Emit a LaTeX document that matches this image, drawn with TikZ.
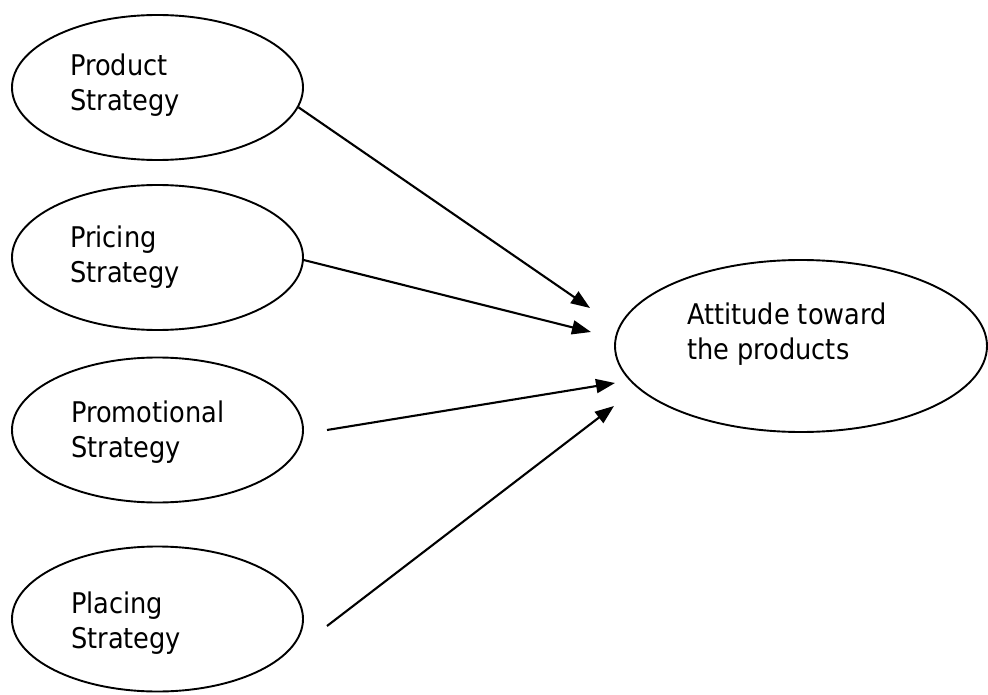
\documentclass[tikz,border=0pt]{standalone}
\usepackage{fontspec}
\setmainfont{DejaVu Sans Condensed}
\usetikzlibrary{shapes.geometric,arrows.meta}
\begin{document}
\begin{tikzpicture}[x=1pt,y=-1pt,
  oval/.style={draw, ellipse, line width=1.9pt, inner sep=0pt, minimum width=291pt, minimum height=145pt},
  txt/.style={anchor=west, align=left, inner sep=0pt, font=\fontsize{28.5}{34.5}\selectfont},
  arr/.style={line width=2.1pt, -{Triangle[length=19pt,width=14pt]}}]
\useasboundingbox (0,0) rectangle (988,695);
% left ovals
\node[oval] (prod) at (157.5,87.5) {};
\node[oval] (pric) at (157.5,257.5) {};
\node[oval] (prom) at (157.5,430) {};
\node[oval] (plac) at (157.5,619) {};
% right oval
\node[oval, minimum width=372pt, minimum height=172pt] (att) at (801,346) {};
% texts
\node[txt] (prodt) at (70,85) {Product\\Strategy};
\node[txt] (prict) at (70,257) {Pricing\\Strategy};
\node[txt] (promt) at (71,432) {Promotional\\Strategy};
\node[txt] (plact) at (71,623) {Placing\\Strategy};
\node[txt] (attt) at (687,334) {Attitude toward\\the products};
% arrow tips and free starts
\coordinate (t1) at (590,308);
\coordinate (t2) at (591,332);
\coordinate (t3) at (615,383);
\coordinate (t4) at (614,406);
\coordinate (s3) at (327,430);
\coordinate (s4) at (327,626);
\draw[arr] (prod.-8) -- (t1);
\draw[arr] (pric.-1) -- (t2);
\draw[arr] (s3) -- (t3);
\draw[arr] (s4) -- (t4);
\end{tikzpicture}
\end{document}
